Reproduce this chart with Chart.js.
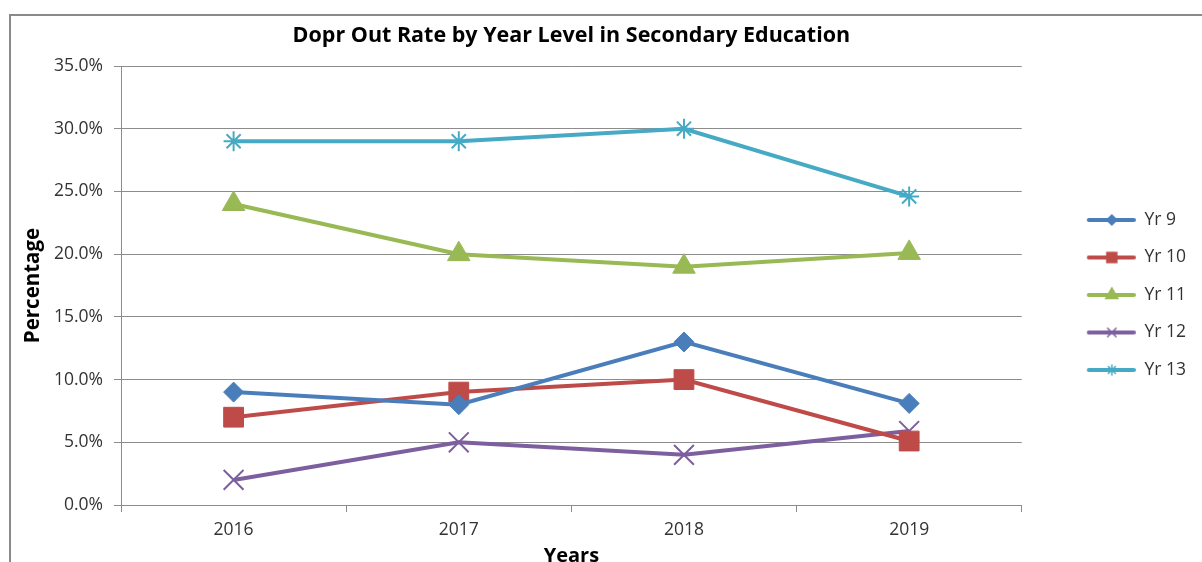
<!DOCTYPE html>
<html>
<head>
<meta charset="utf-8">
<script src="https://cdn.jsdelivr.net/npm/chart.js@4.4.1/dist/chart.umd.min.js"></script>
<style>
  html, body { margin: 0; padding: 0; background: #fff; overflow: hidden; }
  #frame {
    position: absolute; left: 9px; top: 14px; width: 1300px; height: 700px;
    border-left: 2px solid #8a8a8a; border-top: 2px solid #8a8a8a;
  }
  #wrap { position: absolute; left: 0; top: 0; width: 1202px; height: 578px; }
</style>
</head>
<body>
<div id="frame"></div>
<div id="wrap"><canvas id="chart"></canvas></div>
<script>
// values (percent)
const years = ["2016", "2017", "2018", "2019"];
const seriesNames = ["Yr 9", "Yr 10", "Yr 11", "Yr 12", "Yr 13"];
const yr9 = [9.0, 8.0, 13.0, 8.1];
const yr10 = [7.0, 9.0, 10.0, 5.1];
const yr11 = [24.0, 20.0, 19.0, 20.1];
const yr12 = [2.0, 5.0, 4.0, 5.9];
const yr13 = [29.0, 29.0, 30.0, 24.6];
const yTicks = [0, 5, 10, 15, 20, 25, 30, 35];

const colors = ["#4a7ebb", "#be4b48", "#98b954", "#7d5fa0", "#46aac5"];
const markers = ["rectRot", "rect", "triangle", "crossRot", "star"];
const markerSize = [10, 14, 13, 14, 10];
const legendMarkerSize = [5, 7, 7, 6, 5];
const gridColor = "#8c8c8c";
const textColor = "#333";
const fontFamily = "'Open Sans', sans-serif";

// legend icon: line with a small marker on it, blank space on the left
function legendIcon(color, style, r) {
    const c = document.createElement("canvas");
    c.width = 94;
    c.height = 18;
    const g = c.getContext("2d");
    g.strokeStyle = color;
    g.fillStyle = color;
    g.lineWidth = 4;
    g.lineCap = "round";
    g.beginPath();
    g.moveTo(47, 9);
    g.lineTo(92, 9);
    g.stroke();
    g.lineWidth = 1.5;
    Chart.helpers.drawPoint(g, { pointStyle: style, radius: r, rotation: 0, borderWidth: 1.5 }, 70, 9);
    return c;
}
const legendIcons = colors.map((c, i) => legendIcon(c, markers[i], legendMarkerSize[i]));

const allSeries = [yr9, yr10, yr11, yr12, yr13];
const datasets = allSeries.map((vals, i) => ({
    label: seriesNames[i],
    data: vals,
    borderColor: colors[i],
    backgroundColor: colors[i],
    borderWidth: 4,
    pointStyle: markers[i],
    pointRadius: markerSize[i],
    pointBorderWidth: (markers[i] === "crossRot" || markers[i] === "star") ? 2 : 1,
    tension: 0
}));

new Chart(document.getElementById("chart"), {
    type: "line",
    data: { labels: years, datasets },
    options: {
        responsive: true,
        maintainAspectRatio: false,
        animation: false,
        layout: { padding: { left: 0, right: 6, top: 0, bottom: 0 } },
        plugins: {
            tooltip: { enabled: false },
            title: {
                display: true,
                text: "Dopr Out Rate by Year Level in Secondary Education",
                fullSize: false,
                color: "#000",
                font: { family: fontFamily, size: 21.5, weight: "bold" },
                padding: { top: 23.1, bottom: 17.1 }
            },
            legend: {
                position: "right",
                title: { display: true, text: "", font: { size: 10 }, padding: 0 },
                labels: {
                    usePointStyle: true,
                    pointStyleWidth: 94,
                    color: textColor,
                    font: { family: fontFamily, size: 17.5 },
                    padding: 20,
                    generateLabels(chart) {
                        const items = Chart.defaults.plugins.legend.labels.generateLabels(chart);
                        items.forEach((it, i) => { it.pointStyle = legendIcons[i]; });
                        return items;
                    }
                }
            }
        },
        scales: {
            x: {
                offset: true,
                grid: {
                    offset: true,
                    drawOnChartArea: false,
                    drawTicks: true,
                    tickLength: 7,
                    color: gridColor
                },
                border: { display: true, color: gridColor },
                ticks: {
                    color: textColor,
                    font: { family: fontFamily, size: 17.5 },
                    padding: 7.5,
                    maxRotation: 0
                },
                title: {
                    display: true,
                    text: "Years",
                    color: "#000",
                    font: { family: fontFamily, size: 20, weight: "bold" },
                    padding: { top: -4, bottom: 10 }
                }
            },
            y: {
                min: 0,
                max: 35,
                afterBuildTicks(scale) {
                    scale.ticks = yTicks.map(v => ({ value: v }));
                },
                afterFit(scale) {
                    scale.width = 121;
                },
                grid: {
                    color: gridColor,
                    tickLength: 7
                },
                border: { display: true, color: gridColor },
                ticks: {
                    color: textColor,
                    font: { family: fontFamily, size: 17.5 },
                    padding: 11,
                    callback: v => v.toFixed(1) + "%"
                },
                title: {
                    display: true,
                    text: "Percentage",
                    color: "#000",
                    font: { family: fontFamily, size: 20.5, weight: "bold" },
                    padding: { top: 21, bottom: 0 }
                }
            }
        }
    }
});
</script>
</body>
</html>
